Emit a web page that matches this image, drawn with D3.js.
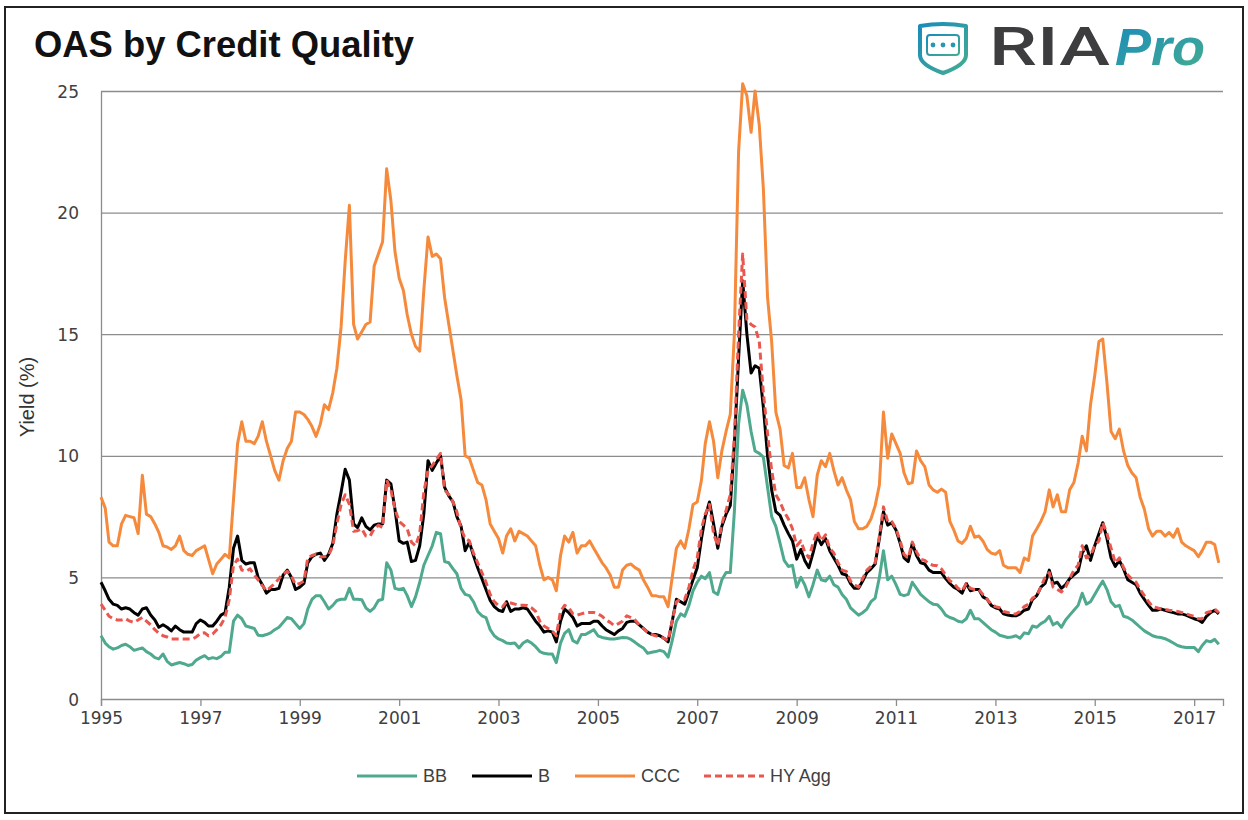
<!DOCTYPE html>
<html>
<head>
<meta charset="utf-8">
<script src="https://cdn.jsdelivr.net/npm/d3@7"></script>
<style>
  body { margin: 0; background: #fff; }
  .tick text { font-family: "DejaVu Sans", sans-serif; font-size: 17px; fill: #404040; }
  .legend text { font-family: "Liberation Sans", Arial, sans-serif; font-size: 18px; fill: #404040; }
</style>
</head>
<body>
<svg id="chart"></svg>
<script>
// Monthly option-adjusted spreads (%), Jan 1995 onwards
const bb = [
  2.6, 2.3, 2.15, 2.05, 2.1, 2.2, 2.25, 2.15, 2.0, 2.05, 2.1, 1.95,
  1.85, 1.7, 1.65, 1.85, 1.55, 1.4, 1.45, 1.5, 1.45, 1.38, 1.42, 1.6,
  1.7, 1.78, 1.65, 1.7, 1.66, 1.75, 1.92, 1.92, 3.2, 3.45, 3.3, 3.0,
  2.95, 2.9, 2.62, 2.6, 2.65, 2.72, 2.85, 2.95, 3.15, 3.35, 3.3, 3.1,
  2.9, 3.1, 3.7, 4.1, 4.25, 4.25, 4.0, 3.7, 3.85, 4.05, 4.1, 4.1,
  4.55, 4.1, 4.1, 4.08, 3.75, 3.6, 3.75, 4.05, 4.1, 5.6, 5.3, 4.55,
  4.5, 4.55, 4.25, 3.8, 4.2, 4.8, 5.5, 5.9, 6.3, 6.85, 6.8, 5.65,
  5.6, 5.35, 5.15, 4.55, 4.3, 4.25, 4.0, 3.6, 3.42, 3.35, 2.85, 2.6,
  2.47, 2.4, 2.3, 2.28, 2.3, 2.1, 2.3, 2.4, 2.3, 2.15, 1.95, 1.88,
  1.85, 1.85, 1.5, 2.3, 2.7, 2.85, 2.4, 2.3, 2.65, 2.65, 2.75, 2.85,
  2.6, 2.53, 2.5, 2.47, 2.47, 2.5, 2.53, 2.52, 2.45, 2.33, 2.2, 2.1,
  1.88, 1.92, 1.95, 2.0, 1.95, 1.72, 2.4, 3.2, 3.5, 3.4, 3.85, 4.45,
  4.8, 5.05, 4.95, 5.2, 4.4, 4.3, 4.9, 5.2, 5.2, 7.7, 11.3, 12.7,
  12.1, 11.0, 10.2, 10.1, 9.95, 8.7, 7.5, 7.1, 6.4, 5.7, 5.45, 5.5,
  4.6, 5.0, 4.7, 4.2, 4.7, 5.3, 4.9, 4.85, 5.05, 4.7, 4.6, 4.3,
  4.1, 3.75, 3.6, 3.45, 3.55, 3.7, 4.0, 4.15, 5.0, 6.1, 4.9, 5.05,
  4.7, 4.3, 4.25, 4.3, 4.8, 4.55, 4.3, 4.15, 4.0, 3.9, 3.88, 3.7,
  3.45, 3.35, 3.3, 3.2, 3.16, 3.3, 3.65, 3.3, 3.3, 3.15, 3.0, 2.85,
  2.75, 2.62, 2.58, 2.53, 2.55, 2.6, 2.5, 2.72, 2.68, 3.0, 2.95, 3.1,
  3.2, 3.4, 3.05, 3.15, 2.95, 3.25, 3.45, 3.65, 3.85, 4.35, 3.9, 4.0,
  4.3, 4.6, 4.85, 4.5, 4.0, 3.8, 3.85, 3.4, 3.35, 3.25, 3.1, 2.95,
  2.8, 2.7, 2.6, 2.55, 2.53, 2.48, 2.4, 2.3, 2.2, 2.15, 2.12, 2.12,
  2.12, 1.95, 2.2, 2.4, 2.35, 2.45, 2.25
];

const b = [
  4.8, 4.45, 4.1, 3.9, 3.85, 3.7, 3.75, 3.7, 3.55, 3.45, 3.7, 3.75,
  3.45, 3.25, 2.95, 3.05, 2.95, 2.8, 3.0, 2.85, 2.75, 2.75, 2.75, 3.1,
  3.25, 3.15, 3.0, 3.0, 3.2, 3.45, 3.55, 4.6, 6.2, 6.7, 5.7, 5.55,
  5.6, 5.6, 5.0, 4.7, 4.35, 4.5, 4.5, 4.55, 5.1, 5.3, 5.0, 4.5,
  4.6, 4.75, 5.6, 5.85, 5.95, 6.0, 5.7, 5.95, 6.4, 7.6, 8.5, 9.45,
  9.0, 7.2, 7.05, 7.45, 7.1, 6.95, 7.15, 7.2, 7.2, 9.0, 8.85, 7.8,
  6.5, 6.4, 6.45, 5.65, 5.7, 6.3, 7.6, 9.8, 9.4, 9.7, 10.0, 8.7,
  8.35, 8.1, 7.5, 7.1, 6.1, 6.45, 5.9, 5.4, 4.95, 4.5, 4.05, 3.8,
  3.65, 3.6, 4.0, 3.6, 3.7, 3.7, 3.75, 3.7, 3.45, 3.2, 3.0, 2.75,
  2.8, 2.75, 2.35, 3.2, 3.7, 3.55, 3.35, 3.0, 3.1, 3.1, 3.1, 3.2,
  3.2, 3.0, 2.85, 2.75, 2.65, 2.8, 2.9, 3.15, 3.2, 3.2, 3.05, 2.9,
  2.75, 2.65, 2.65, 2.6, 2.5, 2.35, 3.2, 4.1, 4.0, 3.9, 4.4, 4.9,
  5.4, 6.6, 7.5, 8.1, 7.2, 6.2, 7.1, 7.6, 7.95, 10.5, 14.0, 17.2,
  15.0, 13.4, 13.7, 13.6, 12.0, 10.0, 8.6, 7.7, 7.55, 7.15, 6.8, 6.5,
  5.75, 6.15, 5.7, 5.4, 6.0, 6.7, 6.35, 6.6, 6.1, 5.8, 5.5, 5.15,
  5.1, 4.75, 4.55, 4.55, 4.85, 5.2, 5.35, 5.55, 6.6, 7.7, 7.15, 7.25,
  6.95, 6.4, 5.8, 5.65, 6.4, 5.9, 5.6, 5.55, 5.3, 5.2, 5.2, 5.2,
  4.95, 4.75, 4.6, 4.5, 4.35, 4.75, 4.45, 4.5, 4.5, 4.2, 4.1, 3.85,
  3.75, 3.7, 3.5, 3.45, 3.42, 3.42, 3.5, 3.65, 3.7, 4.1, 4.25, 4.6,
  4.75, 5.3, 4.75, 4.8, 4.55, 4.7, 4.95, 5.1, 5.25, 6.0, 6.3, 5.7,
  6.3, 6.8, 7.25, 6.6, 5.8, 5.45, 5.7, 5.35, 4.9, 4.8, 4.7, 4.35,
  4.1, 3.85, 3.65, 3.65, 3.7, 3.65, 3.6, 3.55, 3.5, 3.5, 3.45, 3.38,
  3.3, 3.25, 3.15, 3.4, 3.55, 3.65, 3.5
];

const ccc = [
  8.3, 7.85, 6.45, 6.3, 6.3, 7.2, 7.55, 7.5, 7.45, 6.8, 9.2, 7.6,
  7.5, 7.2, 6.85, 6.3, 6.25, 6.15, 6.3, 6.7, 6.1, 5.95, 5.9, 6.1,
  6.2, 6.3, 5.75, 5.15, 5.55, 5.75, 5.95, 5.8, 8.2, 10.5, 11.4, 10.6,
  10.6, 10.5, 10.8, 11.4, 10.6, 10.0, 9.4, 9.0, 9.8, 10.3, 10.6, 11.8,
  11.8, 11.7, 11.5, 11.2, 10.8, 11.3, 12.1, 11.9, 12.6, 13.6, 15.3, 18.0,
  20.3, 15.4, 14.8, 15.1, 15.4, 15.5, 17.8, 18.3, 18.8, 21.8, 20.5, 18.4,
  17.3, 16.8, 15.8, 15.0, 14.5, 14.3, 16.8, 19.0, 18.2, 18.3, 18.1, 16.5,
  15.4, 14.3, 13.3, 12.3, 10.0, 9.9, 9.4, 8.9, 8.8, 8.2, 7.2, 6.9,
  6.6, 6.0, 6.7, 7.0, 6.5, 6.9, 6.8, 6.7, 6.5, 6.3, 5.5, 4.9,
  5.0, 4.9, 4.45, 5.9, 6.7, 6.45, 6.85, 6.0, 6.3, 6.3, 6.5, 6.2,
  5.9, 5.6, 5.4, 5.1, 4.6, 4.6, 5.3, 5.5, 5.55, 5.4, 5.3, 4.9,
  4.6, 4.25, 4.25, 4.2, 4.2, 3.8, 5.0, 6.2, 6.5, 6.2, 7.0, 8.0,
  8.1, 9.0, 10.5, 11.4, 10.6, 9.1, 10.2, 11.0, 11.7, 15.0, 22.5, 25.3,
  24.8, 23.3, 25.0, 23.6, 21.0, 16.5, 14.7, 11.8, 11.1, 9.6, 9.5, 10.1,
  8.7, 8.7, 9.1, 8.2, 7.5, 9.2, 9.8, 9.55, 10.1, 9.4, 8.8, 9.1,
  8.6, 8.2, 7.3, 7.0, 7.0, 7.1, 7.4, 7.95, 8.8, 11.8, 9.9, 10.9,
  10.5, 10.1, 9.3, 8.85, 8.9, 10.2, 9.8, 9.55, 8.8, 8.6, 8.5, 8.63,
  8.5, 7.3, 6.95, 6.5, 6.4, 6.6, 7.1, 6.65, 6.7, 6.5, 6.15, 6.0,
  5.95, 6.1, 5.5, 5.4, 5.4, 5.4, 5.2, 5.8, 5.7, 6.7, 7.0, 7.3,
  7.7, 8.6, 7.9, 8.4, 7.7, 7.7, 8.6, 8.9, 9.7, 10.8, 10.2, 12.1,
  13.3, 14.7, 14.8, 13.0, 11.0, 10.7, 11.1, 10.2, 9.6, 9.3, 9.1, 8.3,
  7.8, 7.0, 6.7, 6.9, 6.9, 6.7, 6.85, 6.65, 7.0, 6.45, 6.3, 6.2,
  6.1, 5.85, 6.1, 6.45, 6.45, 6.35, 5.6
];

const hyAgg = [
  3.9, 3.65, 3.4, 3.3, 3.25, 3.25, 3.3, 3.2, 3.15, 3.25, 3.35, 3.2,
  3.05, 2.85, 2.7, 2.6, 2.55, 2.47, 2.47, 2.47, 2.47, 2.47, 2.47, 2.55,
  2.7, 2.72, 2.6, 2.67, 2.85, 3.05, 3.35, 4.1, 5.5, 5.75, 5.3, 5.25,
  5.35, 5.1, 4.9, 4.66, 4.45, 4.6, 4.75, 4.95, 5.15, 5.25, 5.05, 4.7,
  4.75, 4.85, 5.8, 5.9, 5.96, 5.85, 5.85, 5.9, 6.3, 7.2, 8.0, 8.4,
  8.0, 6.9, 6.92, 7.0, 6.7, 6.7, 7.0, 7.15, 7.05, 9.0, 8.6, 7.8,
  7.3, 7.15, 7.0, 6.45, 6.3, 6.8, 8.5, 9.4, 9.6, 9.85, 10.1, 8.6,
  8.4, 8.1, 7.7, 7.0, 6.6, 6.5, 6.0, 5.6, 5.2, 4.8, 4.3, 4.0,
  3.85, 3.8, 4.0, 3.95, 3.9, 3.85, 3.85, 3.84, 3.75, 3.6, 3.2, 3.0,
  2.9, 2.8, 2.6, 3.6, 3.85, 3.75, 3.5, 3.45, 3.5, 3.55, 3.56, 3.56,
  3.5, 3.4, 3.25, 3.15, 3.02, 3.1, 3.2, 3.42, 3.35, 3.25, 3.05, 2.9,
  2.75, 2.65, 2.6, 2.55, 2.5, 2.4, 3.2, 4.0, 4.1, 4.1, 4.6, 5.3,
  5.8, 7.0, 7.6, 8.0, 6.8, 6.3, 7.2, 7.75, 8.4, 10.8, 15.0, 18.3,
  15.6, 15.4, 15.3, 14.7, 12.6, 10.9, 9.4, 8.4, 8.1, 7.7, 7.4, 7.0,
  6.3, 6.5, 6.05, 5.8, 6.4, 6.9, 6.5, 6.75, 6.2, 6.0, 5.6, 5.3,
  5.25, 4.85, 4.7, 4.6, 4.95, 5.3, 5.45, 5.6, 6.7, 7.9, 7.3, 7.3,
  7.0, 6.5, 5.95, 5.8, 6.45, 6.05, 5.75, 5.7, 5.55, 5.5, 5.48, 5.35,
  5.1, 4.86, 4.75, 4.55, 4.45, 4.75, 4.55, 4.5, 4.5, 4.3, 4.1, 3.9,
  3.8, 3.75, 3.6, 3.56, 3.5, 3.5, 3.6, 3.8, 3.9, 4.15, 4.25, 4.6,
  5.0, 5.2, 4.6, 4.5, 4.4, 4.6, 4.95, 5.3, 5.5, 6.3, 5.8, 5.9,
  6.3, 6.5, 7.25, 6.8, 6.2, 5.6, 5.8, 5.41, 5.1, 4.93, 4.8, 4.5,
  4.25, 4.0, 3.8, 3.75, 3.7, 3.68, 3.65, 3.63, 3.6, 3.56, 3.5, 3.45,
  3.4, 3.3, 3.3, 3.55, 3.6, 3.7, 3.55
];

const startMonth = new Date(1995, 0, 1);
const endMonth = new Date(2017, 7, 1);
const yTicks = [0, 5, 10, 15, 20, 25];
const xTickYears = [1995, 1997, 1999, 2001, 2003, 2005, 2007, 2009, 2011, 2013, 2015, 2017];

const seriesList = [
  { name: 'BB', values: bb, color: '#4fa98f', dash: null },
  { name: 'B', values: b, color: '#000000', dash: null },
  { name: 'CCC', values: ccc, color: '#f58a3c', dash: null },
  { name: 'HY Agg', values: hyAgg, color: '#e9574f', dash: '7,4' }
];

const W = 1248, H = 820;
const margin = { top: 91, right: 25, bottom: 121, left: 101 };
const width = W - margin.left - margin.right;
const height = H - margin.top - margin.bottom;

const svg = d3.select('#chart').attr('width', W).attr('height', H);

// outer frame
svg.append('rect')
  .attr('x', 5).attr('y', 7).attr('width', 1238).attr('height', 806)
  .attr('fill', '#fff').attr('stroke', '#222').attr('stroke-width', 2);

// title
svg.append('text')
  .attr('x', 34).attr('y', 57)
  .attr('font-family', '"Liberation Sans", Arial, sans-serif')
  .attr('font-weight', 'bold').attr('font-size', 36)
  .attr('fill', '#111')
  .attr('textLength', 380).attr('lengthAdjust', 'spacingAndGlyphs')
  .text('OAS by Credit Quality');

// logo
const defs = svg.append('defs');
const grad = defs.append('linearGradient').attr('id', 'brand')
  .attr('x1', '0%').attr('y1', '0%').attr('x2', '100%').attr('y2', '100%');
grad.append('stop').attr('offset', '0%').attr('stop-color', '#1a8bbb');
grad.append('stop').attr('offset', '100%').attr('stop-color', '#45ad8f');

const logo = svg.append('g').attr('transform', 'translate(918,23)');
logo.append('path')
  .attr('d', 'M2,3 Q25,-1 48,3 L48,32 Q48,42 25,50 Q2,42 2,32 Z')
  .attr('fill', 'none').attr('stroke', 'url(#brand)').attr('stroke-width', 4)
  .attr('stroke-linejoin', 'round');
logo.append('rect')
  .attr('x', 9).attr('y', 12).attr('width', 32).attr('height', 20).attr('rx', 3)
  .attr('fill', 'none').attr('stroke', 'url(#brand)').attr('stroke-width', 2);
[15, 25, 35].forEach(cx => {
  logo.append('circle').attr('cx', cx).attr('cy', 22).attr('r', 2.4).attr('fill', '#2a97b0');
});
svg.append('text')
  .attr('x', 989).attr('y', 65)
  .attr('font-family', 'Roboto, "Liberation Sans", sans-serif')
  .attr('font-weight', 500).attr('font-size', 53)
  .attr('fill', '#3d3d3f')
  .attr('textLength', 121).attr('lengthAdjust', 'spacingAndGlyphs')
  .text('RIA');
svg.append('text')
  .attr('x', 1115).attr('y', 65)
  .attr('font-family', '"Liberation Sans", Arial, sans-serif')
  .attr('font-weight', 'bold').attr('font-style', 'italic').attr('font-size', 52)
  .attr('fill', 'url(#brand)')
  .attr('textLength', 90).attr('lengthAdjust', 'spacingAndGlyphs')
  .text('Pro');

const chart = svg.append('g')
  .attr('transform', `translate(${margin.left},${margin.top})`);

const xScale = d3.scaleTime().domain([startMonth, endMonth]).range([0, width]);
const yScale = d3.scaleLinear().domain([0, 25]).range([height, 0]);

// gridlines
chart.append('g')
  .attr('class', 'grid')
  .call(d3.axisLeft(yScale).tickValues(yTicks.slice(1)).tickSize(-width).tickFormat(''))
  .call(g => g.select('.domain').remove())
  .call(g => g.selectAll('line').attr('stroke', '#8c8c8c').attr('stroke-width', 1.3));

// y axis
chart.append('g')
  .attr('class', 'axis y-axis')
  .call(d3.axisLeft(yScale).tickValues(yTicks).tickSize(0).tickPadding(22))
  .call(g => g.select('.domain').attr('stroke', '#8c8c8c').attr('stroke-width', 1.3))
  .call(g => g.selectAll('.tick text').attr('dy', '0.36em'));

// x axis
const xTickDates = xTickYears.map(yr => new Date(yr, 0, 1));
chart.append('g')
  .attr('class', 'axis x-axis')
  .attr('transform', `translate(0,${height})`)
  .call(d3.axisBottom(xScale).tickValues(xTickDates).tickFormat(d3.timeFormat('%Y')).tickSize(7).tickPadding(6))
  .call(g => g.select('.domain').attr('stroke', '#8c8c8c').attr('stroke-width', 1.3))
  .call(g => g.selectAll('.tick line').attr('stroke', '#8c8c8c').attr('stroke-width', 1.3));

// y axis title
svg.append('text')
  .attr('transform', 'translate(34,397) rotate(-90)')
  .attr('text-anchor', 'middle')
  .attr('font-family', '"Liberation Sans", Arial, sans-serif')
  .attr('font-size', 20).attr('fill', '#333')
  .text('Yield (%)');

// lines
const line = d3.line()
  .x((d, i) => xScale(d3.timeMonth.offset(startMonth, i)))
  .y(d => yScale(d));

chart.selectAll('.series')
  .data(seriesList)
  .join('path')
  .attr('class', 'series')
  .attr('d', d => line(d.values))
  .attr('fill', 'none')
  .attr('stroke', d => d.color)
  .attr('stroke-width', 3)
  .attr('stroke-linejoin', 'round')
  .attr('stroke-dasharray', d => d.dash);

// legend
const legendX = [357, 472, 575, 704];
const legend = svg.append('g').attr('class', 'legend');
const items = legend.selectAll('g')
  .data(seriesList)
  .join('g')
  .attr('transform', (d, i) => `translate(${legendX[i]},776)`);
items.append('line')
  .attr('x1', 0).attr('x2', 60).attr('y1', 0).attr('y2', 0)
  .attr('stroke', d => d.color).attr('stroke-width', 3)
  .attr('stroke-dasharray', d => d.dash);
items.append('text')
  .attr('x', 66).attr('y', 6)
  .text(d => d.name);
</script>
</body>
</html>
